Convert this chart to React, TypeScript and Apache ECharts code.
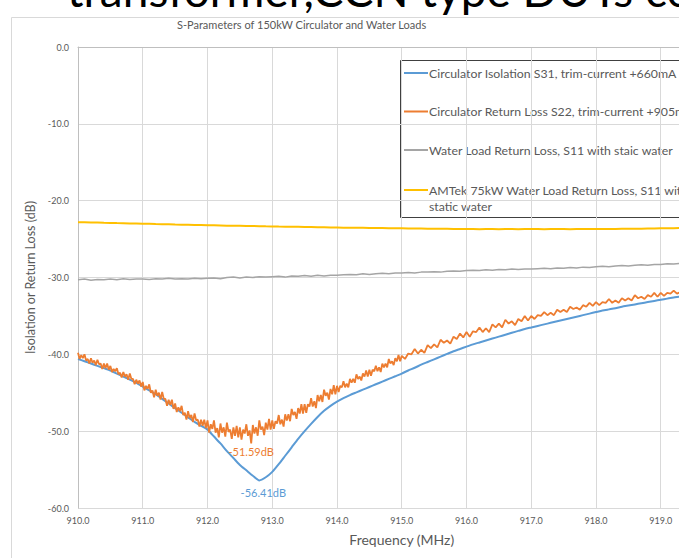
import React, { useEffect, useRef } from 'react';
import * as echarts from 'echarts';

const FONT = 'Lato, "Open Sans", sans-serif';
const TEXT_COLOR = '#595959';

const SLIDE_TEXT = 'transformer,CCN type DUTs co';
const TITLE = 'S-Parameters of 150kW Circulator and Water Loads';
const X_NAME = 'Frequency (MHz)';
const Y_NAME = 'Isolation or Return Loss (dB)';

const SERIES_NAMES = [
  'Circulator Isolation S31, trim-current +660mA',
  'Circulator Return Loss S22, trim-current +905mA',
  'Water Load Return Loss, S11 with staic water',
  'AMTek 75kW Water Load Return Loss, S11 with static water',
];
const LEGEND_LINES = [
  ['Circulator Isolation S31, trim-current +660mA'],
  ['Circulator Return Loss S22, trim-current +905mA'],
  ['Water Load Return Loss, S11 with staic water'],
  ['AMTek 75kW Water Load Return Loss, S11 with', 'static water'],
];
const COLORS = ['#5B9BD5', '#ED7D31', '#A5A5A5', '#FFC000'];

const X_MIN = 910;
const X_MAX = 920;
const X_STEP = 1;
const Y_MIN = -60;
const Y_MAX = 0;
const Y_STEP = 10;

// sweep grid 910.0 .. 920.0 MHz, 0.1 MHz apart
const COARSE_START = 910;
const COARSE_STEP = 0.1;

const BLUE_S31 = [
  -40.6, -40.9, -41.2, -41.5, -41.8, -42.1, -42.5, -42.9, -43.3, -43.7,
  -44.2, -44.7, -45.2, -45.8, -46.4, -47.0, -47.6, -48.2, -48.8, -49.3,
  -49.8, -50.7, -51.6, -52.6, -53.5, -54.4, -55.1, -55.8, -56.41, -56.0,
  -55.3, -54.3, -53.2, -52.1, -51.0, -50.0, -49.05, -48.15, -47.35, -46.7,
  -46.15, -45.7, -45.3, -44.95, -44.6, -44.25, -43.9, -43.55, -43.2, -42.85,
  -42.5, -42.1, -41.75, -41.35, -41.0, -40.65, -40.3, -39.95, -39.6, -39.3,
  -39.0, -38.7, -38.45, -38.2, -37.95, -37.7, -37.45, -37.2, -36.95, -36.7,
  -36.5, -36.3, -36.1, -35.9, -35.7, -35.5, -35.3, -35.1, -34.9, -34.7,
  -34.5, -34.3, -34.15, -34.0, -33.8, -33.65, -33.5, -33.35, -33.2, -33.05,
  -32.9, -32.75, -32.6, -32.5, -32.35, -32.2, -32.1, -31.95, -31.8, -31.7,
  -31.6,
];

const GRAY_S11 = [
  -30.3, -30.2, -30.35, -30.25, -30.3, -30.2, -30.3, -30.15, -30.25, -30.2,
  -30.2, -30.25, -30.15, -30.2, -30.1, -30.2, -30.15, -30.2, -30.1, -30.15,
  -30.1, -30.05, -30.15, -30.0, -29.95, -30.05, -29.95, -30.0, -29.9, -29.95,
  -29.9, -29.85, -29.95, -29.8, -29.85, -29.75, -29.85, -29.7, -29.8, -29.7,
  -29.7, -29.65, -29.6, -29.65, -29.5, -29.6, -29.5, -29.45, -29.5, -29.4,
  -29.4, -29.35, -29.4, -29.3, -29.3, -29.25, -29.3, -29.2, -29.15, -29.2,
  -29.1, -29.05, -29.1, -29.0, -29.05, -28.95, -29.0, -28.9, -28.95, -28.9,
  -28.9, -28.85, -28.8, -28.85, -28.75, -28.8, -28.7, -28.75, -28.65, -28.7,
  -28.6, -28.55, -28.6, -28.5, -28.45, -28.5, -28.4, -28.35, -28.4, -28.3,
  -28.3, -28.2, -28.25, -28.15, -28.2, -28.1, -28.15, -28.05, -28.1, -28.0,
  -28.0,
];

const YELLOW_S11 = [
  -22.8, -22.82, -22.84, -22.85, -22.88, -22.9, -22.92, -22.93, -22.96, -22.98,
  -23.0, -23.01, -23.04, -23.06, -23.07, -23.1, -23.12, -23.13, -23.16, -23.18,
  -23.2, -23.21, -23.23, -23.25, -23.26, -23.27, -23.29, -23.3, -23.32, -23.34,
  -23.35, -23.37, -23.38, -23.4, -23.41, -23.43, -23.44, -23.46, -23.47, -23.49,
  -23.5, -23.51, -23.52, -23.53, -23.54, -23.55, -23.56, -23.57, -23.58, -23.59,
  -23.6, -23.61, -23.62, -23.63, -23.64, -23.65, -23.66, -23.67, -23.68, -23.69,
  -23.7, -23.7, -23.71, -23.7, -23.7, -23.71, -23.7, -23.7, -23.71, -23.7,
  -23.7, -23.7, -23.71, -23.7, -23.7, -23.7, -23.71, -23.7, -23.7, -23.7,
  -23.7, -23.69, -23.68, -23.68, -23.67, -23.66, -23.65, -23.64, -23.63, -23.62,
  -23.6, -23.59, -23.58, -23.57, -23.56, -23.55, -23.54, -23.53, -23.52, -23.51,
  -23.5,
];

// orange S22 sweep: 910.000 .. 914.975 MHz every 0.025 MHz
const ORANGE_A_START = 910;
const ORANGE_A_STEP = 0.025;
const ORANGE_S22_A = [
  -39.8, -40.6, -40.1, -40.5, -40.0, -40.8, -40.6, -41.2, -40.5, -41.1,
  -40.8, -41.4, -40.7, -41.3, -41.2, -41.9, -41.2, -41.8, -41.2, -42.0,
  -41.5, -42.3, -41.9, -42.2, -41.8, -42.6, -42.4, -43.0, -42.3, -42.9,
  -42.6, -43.3, -42.5, -43.2, -43.2, -43.9, -43.3, -43.8, -43.4, -44.2,
  -43.6, -44.7, -44.1, -44.5, -43.9, -45.0, -44.7, -45.6, -44.6, -45.4,
  -45.0, -45.9, -44.9, -45.8, -45.8, -46.7, -45.9, -46.6, -45.9, -47.1,
  -46.4, -47.5, -46.9, -47.4, -46.7, -47.9, -47.6, -48.5, -47.4, -48.3,
  -47.9, -48.8, -47.7, -48.6, -48.5, -49.4, -48.5, -49.3, -48.5, -49.6,
  -48.6, -50.2, -49.1, -49.7, -48.6, -50.2, -49.6, -50.8, -49.0, -50.2,
  -49.5, -50.7, -48.9, -50.1, -49.8, -51.0, -49.5, -50.6, -49.3, -50.8,
  -49.5, -51.1, -49.8, -50.3, -49.1, -50.6, -49.9, -51.59, -49.2, -50.3,
  -49.5, -50.6, -48.6, -49.8, -49.4, -50.5, -48.9, -49.8, -48.4, -49.8,
  -48.6, -49.7, -48.7, -49.0, -47.9, -49.1, -48.5, -49.4, -47.8, -48.6,
  -47.8, -48.7, -47.1, -47.9, -47.5, -48.4, -47.0, -47.7, -46.5, -47.7,
  -46.5, -47.6, -46.5, -46.8, -45.7, -46.8, -46.1, -47.0, -45.3, -46.1,
  -45.3, -46.2, -44.6, -45.4, -45.0, -45.9, -44.5, -45.2, -44.0, -45.2,
  -44.1, -44.9, -44.1, -44.3, -43.5, -44.3, -43.8, -44.3, -43.2, -43.7,
  -43.2, -43.7, -42.6, -43.2, -42.9, -43.4, -42.5, -42.9, -42.1, -42.9,
  -42.0, -42.8, -42.0, -42.2, -41.5, -42.2, -41.7, -42.3, -41.2, -41.7,
  -41.2, -41.7, -40.6, -41.2, -40.9, -41.4, -40.5, -40.9, -40.1, -40.9,
];

// orange S22 sweep: 915.00 .. 920.00 MHz every 0.05 MHz
const ORANGE_B_START = 915;
const ORANGE_B_STEP = 0.05;
const ORANGE_S22_B = [
  -40.2, -40.6, -39.9, -40.0, -39.3, -39.9, -39.4, -39.8, -38.8, -39.2,
  -38.7, -39.1, -38.1, -38.5, -38.2, -38.6, -37.7, -38.0, -37.3, -37.8,
  -37.1, -37.7, -37.0, -37.1, -36.5, -37.1, -36.6, -37.1, -36.1, -36.5,
  -36.0, -36.5, -35.5, -36.0, -35.7, -36.2, -35.4, -35.7, -35.0, -35.6,
  -35.0, -35.4, -34.9, -35.0, -34.5, -34.9, -34.6, -34.9, -34.2, -34.5,
  -34.2, -34.5, -33.8, -34.1, -33.9, -34.2, -33.6, -33.8, -33.3, -33.7,
  -33.2, -33.6, -33.2, -33.3, -32.8, -33.3, -33.0, -33.3, -32.7, -33.0,
  -32.7, -33.0, -32.3, -32.7, -32.5, -32.8, -32.3, -32.5, -32.0, -32.5,
  -32.0, -32.4, -32.0, -32.1, -31.7, -32.1, -31.9, -32.2, -31.6, -31.9,
  -31.6, -31.9, -31.3, -31.6, -31.5, -31.8, -31.3, -31.6, -31.1, -31.6,
  -31.3,
];

const toPairs = (start: number, step: number, vals: number[]) =>
  vals.map((v, i) => [Math.round((start + i * step) * 1000) / 1000, v]);

export default function App() {
  const ref = useRef<HTMLDivElement>(null);

  useEffect(() => {
    if (!ref.current) return;
    const chart = echarts.init(ref.current, undefined, { renderer: 'svg' });

    const orangeData = [
      ...toPairs(ORANGE_A_START, ORANGE_A_STEP, ORANGE_S22_A),
      ...toPairs(ORANGE_B_START, ORANGE_B_STEP, ORANGE_S22_B),
    ];

    const legendItemY = [73, 111.5, 150, 190];
    const legendChildren: any[] = [
      {
        type: 'rect',
        shape: { x: 400.5, y: 60.5, width: 420, height: 157 },
        style: { fill: '#ffffff', stroke: '#404040', lineWidth: 1 },
      },
    ];
    LEGEND_LINES.forEach((lines, i) => {
      const y = legendItemY[i];
      legendChildren.push({
        type: 'line',
        shape: { x1: 404, y1: y, x2: 428, y2: y },
        style: { stroke: COLORS[i], lineWidth: 2 },
      });
      lines.forEach((t, j) => {
        legendChildren.push({
          type: 'text',
          x: 429,
          y: y + j * 16,
          style: {
            text: t,
            fill: TEXT_COLOR,
            font: `12.3px ${FONT}`,
            verticalAlign: 'middle',
            align: 'left',
          },
        });
      });
    });

    const minLabel = (color: string, distance: number, offset: number[]) => ({
      symbol: 'circle',
      symbolSize: 1,
      itemStyle: { color: 'transparent' },
      data: [{ type: 'min', valueDim: 'y' }],
      label: {
        show: true,
        position: 'bottom',
        distance,
        offset,
        color,
        fontSize: 11,
        fontFamily: FONT,
        formatter: (p: any) => `${p.value}dB`,
      },
    });

    chart.setOption({
      animation: false,
      backgroundColor: '#ffffff',
      textStyle: { fontFamily: FONT },
      title: {
        text: TITLE,
        left: 177,
        top: 19,
        padding: 0,
        textStyle: { fontSize: 11, fontWeight: 'normal', color: TEXT_COLOR, fontFamily: FONT },
      },
      grid: { left: 78, top: 47, width: 650, height: 461 },
      xAxis: {
        type: 'value',
        min: X_MIN,
        max: X_MAX,
        interval: X_STEP,
        name: X_NAME,
        nameLocation: 'middle',
        nameGap: 24,
        nameTextStyle: { fontSize: 14, color: TEXT_COLOR, fontFamily: FONT },
        axisLine: { show: true, lineStyle: { color: '#bfbfbf', width: 1 } },
        axisTick: { show: false },
        axisLabel: {
          fontSize: 9,
          color: TEXT_COLOR,
          margin: 8,
          fontFamily: FONT,
          formatter: (v: number) => v.toFixed(1),
        },
        splitLine: { show: true, lineStyle: { color: '#d9d9d9', width: 1 } },
      },
      yAxis: {
        type: 'value',
        min: Y_MIN,
        max: Y_MAX,
        interval: Y_STEP,
        name: Y_NAME,
        nameLocation: 'middle',
        nameGap: 30,
        nameTextStyle: { fontSize: 12.5, color: TEXT_COLOR, fontFamily: FONT },
        axisLine: { show: true, lineStyle: { color: '#bfbfbf', width: 1 } },
        axisTick: { show: false },
        axisLabel: {
          fontSize: 9,
          color: TEXT_COLOR,
          margin: 9,
          fontFamily: FONT,
          formatter: (v: number) => v.toFixed(1),
        },
        splitLine: { show: true, lineStyle: { color: '#d9d9d9', width: 1 } },
      },
      series: [
        {
          name: SERIES_NAMES[0],
          type: 'line',
          data: toPairs(COARSE_START, COARSE_STEP, BLUE_S31),
          showSymbol: false,
          symbol: 'none',
          smooth: 0.2,
          lineStyle: { color: COLORS[0], width: 2 },
          itemStyle: { color: COLORS[0] },
          z: 2,
          markPoint: minLabel(COLORS[0], 6, [4, 0]),
        },
        {
          name: SERIES_NAMES[1],
          type: 'line',
          data: orangeData,
          showSymbol: false,
          symbol: 'none',
          lineStyle: { color: COLORS[1], width: 1.8 },
          itemStyle: { color: COLORS[1] },
          z: 3,
          markPoint: minLabel(COLORS[1], 2, [0, 0]),
        },
        {
          name: SERIES_NAMES[2],
          type: 'line',
          data: toPairs(COARSE_START, COARSE_STEP, GRAY_S11),
          showSymbol: false,
          symbol: 'none',
          lineStyle: { color: COLORS[2], width: 1.5 },
          itemStyle: { color: COLORS[2] },
          z: 4,
        },
        {
          name: SERIES_NAMES[3],
          type: 'line',
          data: toPairs(COARSE_START, COARSE_STEP, YELLOW_S11),
          showSymbol: false,
          symbol: 'none',
          lineStyle: { color: COLORS[3], width: 2 },
          itemStyle: { color: COLORS[3] },
          z: 5,
        },
      ],
      graphic: [
        {
          type: 'rect',
          z: -10,
          silent: true,
          shape: { x: 11.5, y: 17.5, width: 780, height: 600 },
          style: { fill: 'none', stroke: '#d9d9d9', lineWidth: 1 },
        },
        {
          type: 'text',
          z: 100,
          silent: true,
          x: 67,
          y: -10.5,
          style: {
            text: SLIDE_TEXT,
            fill: '#000000',
            font: `46px ${FONT}`,
            verticalAlign: 'middle',
            align: 'left',
          },
        },
        {
          type: 'group',
          z: 100,
          silent: true,
          children: legendChildren,
        },
      ],
    });

    return () => chart.dispose();
  }, []);

  return (
    <div
      style={{
        position: 'absolute',
        left: 0,
        top: 0,
        width: 679,
        height: 558,
        overflow: 'hidden',
        background: '#ffffff',
      }}
    >
      <div ref={ref} style={{ width: 740, height: 558 }} />
    </div>
  );
}
